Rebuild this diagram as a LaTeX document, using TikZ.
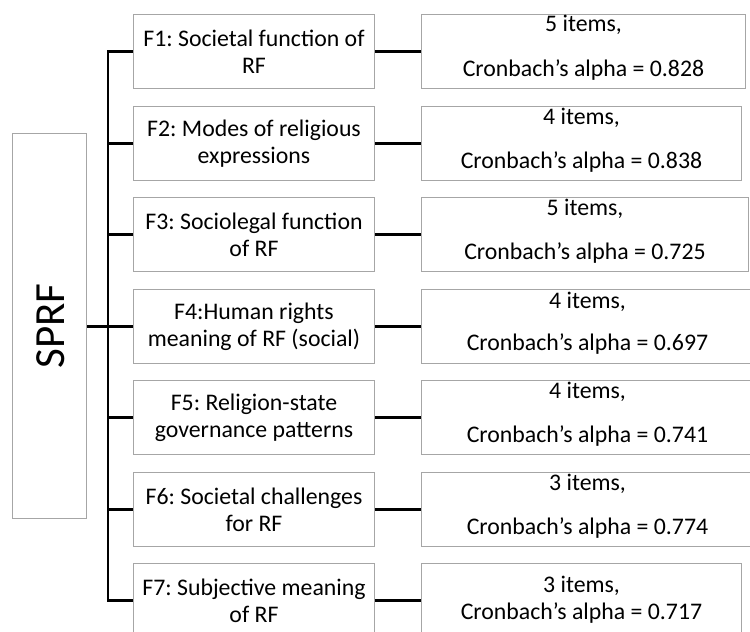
\documentclass[tikz,border=0pt]{standalone}
\usepackage{fontspec}
\setmainfont{Carlito}
\frenchspacing
\definecolor{boxgray}{HTML}{A6A6A6}
\newcommand{\rtext}[4]{\raisebox{#4}[\height][\depth]{\begin{tabular}{@{}c@{}}#1\\[#3]#2\end{tabular}}}
\begin{document}
\begin{tikzpicture}[x=1pt,y=-1pt,
  box/.style={draw=boxgray, line width=1pt, inner sep=0pt, align=center,
    font=\fontsize{23.8}{27}\selectfont, anchor=north west, minimum height=74pt},
  fbox/.style={box, minimum width=241pt},
  link/.style={line width=2.3pt, draw=black}]
\useasboundingbox (0,0) rectangle (750,632);
\clip (0,0) rectangle (750,632);
\fill[white] (0,0) rectangle (750,632);
% SPRF
\node[draw=boxgray, line width=1pt, minimum width=74pt, minimum height=385pt, inner sep=0pt, anchor=north west] (s) at (12,133) {};
\node[rotate=90, font=\fontsize{43}{50}\selectfont, inner sep=0pt, yshift=-1pt] (sl) at (s.center) {SPRF};
% factor boxes
\node[fbox] (f1) at (133,14)  {F1: Societal function of\\RF};
\node[fbox] (f2) at (133,106) {F2: Modes of religious\\expressions};
\node[fbox] (f3) at (133,197) {F3: Sociolegal function\\of RF};
\node[fbox] (f4) at (133,289) {F4:Human rights\\meaning of RF (social)};
\node[fbox] (f5) at (133,380) {F5: Religion-state\\governance patterns};
\node[fbox] (f6) at (133,472) {F6: Societal challenges\\for RF};
\node[fbox] (f7) at (133,563) {F7: Subjective meaning\\of RF};
% result boxes
\node[box, minimum width=324pt] (r1) at (421,14)  {\rtext{5 items,}{Cronbach’s alpha = 0.828}{18pt}{2.5pt}};
\node[box, minimum width=320pt] (r2) at (421,106) {\rtext{4 items,}{Cronbach’s alpha = 0.838}{17pt}{2.5pt}};
\node[box, minimum width=327pt] (r3) at (421,197) {\rtext{5 items,}{Cronbach’s alpha = 0.725}{17pt}{2.5pt}};
\node[box, minimum width=332pt] (r4) at (421,289) {\rtext{4 items,}{Cronbach’s alpha = 0.697}{15pt}{2.5pt}};
\node[box, minimum width=332pt] (r5) at (421,380) {\rtext{4 items,}{Cronbach’s alpha = 0.741}{17pt}{2.5pt}};
\node[box, minimum width=332pt] (r6) at (421,472) {\rtext{3 items,}{Cronbach’s alpha = 0.774}{17pt}{2.5pt}};
\node[box, minimum width=320pt] (r7) at (421,563) {\rtext{3 items,}{Cronbach’s alpha = 0.717}{0pt}{0pt}};
% bracket
\coordinate (bx) at (108,0);
\draw[link] (s.east |- f4.west) -- (bx |- f4.west);
\draw[link, line cap=rect] (bx |- f1.west) -- (bx |- f7.west);
\foreach \i in {1,...,7}{
  \draw[link] (bx |- f\i.west) -- (f\i.west);
  \draw[link] (f\i.east) -- (r\i.west);
}
\end{tikzpicture}
\end{document}
